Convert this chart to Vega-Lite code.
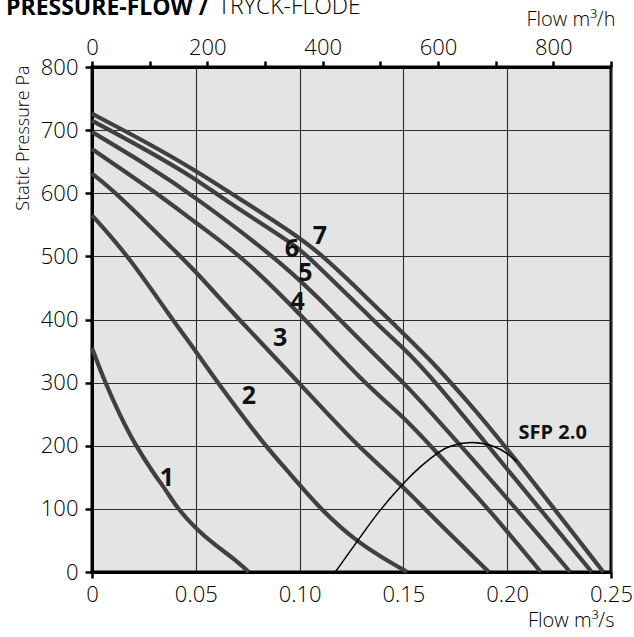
{
  "$schema": "https://vega.github.io/schema/vega-lite/v6.json",
  "width": 519,
  "height": 505,
  "autosize": {"type": "none"},
  "padding": {"left": 92, "top": 67, "right": 23, "bottom": 65},
  "background": "white",
  "title": {
    "text": "PRESSURE-FLOW /",
    "anchor": "start",
    "frame": "group",
    "orient": "top",
    "dx": -86,
    "offset": -24,
    "font": "Open Sans",
    "fontSize": 23,
    "fontWeight": "bold",
    "color": "#000"
  },
  "datasets": {
    "curves": [
      {"curve": "1", "flow": 0, "pressure": 355},
      {"curve": "1", "flow": 0.0063, "pressure": 300},
      {"curve": "1", "flow": 0.0135, "pressure": 248},
      {"curve": "1", "flow": 0.0207, "pressure": 202},
      {"curve": "1", "flow": 0.0295, "pressure": 157},
      {"curve": "1", "flow": 0.036, "pressure": 128},
      {"curve": "1", "flow": 0.0408, "pressure": 102},
      {"curve": "1", "flow": 0.0504, "pressure": 67},
      {"curve": "1", "flow": 0.06, "pressure": 41},
      {"curve": "1", "flow": 0.068, "pressure": 22},
      {"curve": "1", "flow": 0.0755, "pressure": 0},
      {"curve": "2", "flow": 0, "pressure": 565},
      {"curve": "2", "flow": 0.0177, "pressure": 500},
      {"curve": "2", "flow": 0.038, "pressure": 403},
      {"curve": "2", "flow": 0.05, "pressure": 350},
      {"curve": "2", "flow": 0.0609, "pressure": 298},
      {"curve": "2", "flow": 0.0833, "pressure": 200},
      {"curve": "2", "flow": 0.0954, "pressure": 156},
      {"curve": "2", "flow": 0.1098, "pressure": 100},
      {"curve": "2", "flow": 0.1275, "pressure": 48},
      {"curve": "2", "flow": 0.1403, "pressure": 22},
      {"curve": "2", "flow": 0.1518, "pressure": 0},
      {"curve": "3", "flow": 0, "pressure": 631},
      {"curve": "3", "flow": 0.012, "pressure": 600},
      {"curve": "3", "flow": 0.0425, "pressure": 500},
      {"curve": "3", "flow": 0.05, "pressure": 476},
      {"curve": "3", "flow": 0.0707, "pressure": 400},
      {"curve": "3", "flow": 0.0997, "pressure": 300},
      {"curve": "3", "flow": 0.1275, "pressure": 200},
      {"curve": "3", "flow": 0.15, "pressure": 135},
      {"curve": "3", "flow": 0.1628, "pressure": 91},
      {"curve": "3", "flow": 0.1912, "pressure": 0},
      {"curve": "4", "flow": 0, "pressure": 670},
      {"curve": "4", "flow": 0.0313, "pressure": 600},
      {"curve": "4", "flow": 0.05, "pressure": 553},
      {"curve": "4", "flow": 0.0722, "pressure": 500},
      {"curve": "4", "flow": 0.1, "pressure": 410},
      {"curve": "4", "flow": 0.1307, "pressure": 300},
      {"curve": "4", "flow": 0.15, "pressure": 246},
      {"curve": "4", "flow": 0.1628, "pressure": 201},
      {"curve": "4", "flow": 0.1909, "pressure": 100},
      {"curve": "4", "flow": 0.2, "pressure": 64},
      {"curve": "4", "flow": 0.2162, "pressure": 0},
      {"curve": "5", "flow": 0, "pressure": 697},
      {"curve": "5", "flow": 0.025, "pressure": 648},
      {"curve": "5", "flow": 0.05, "pressure": 594},
      {"curve": "5", "flow": 0.0954, "pressure": 480},
      {"curve": "5", "flow": 0.1162, "pressure": 410},
      {"curve": "5", "flow": 0.138, "pressure": 338},
      {"curve": "5", "flow": 0.15, "pressure": 300},
      {"curve": "5", "flow": 0.1628, "pressure": 255},
      {"curve": "5", "flow": 0.2, "pressure": 117},
      {"curve": "5", "flow": 0.2303, "pressure": 0},
      {"curve": "6", "flow": 0, "pressure": 715},
      {"curve": "6", "flow": 0.025, "pressure": 671},
      {"curve": "6", "flow": 0.05, "pressure": 623},
      {"curve": "6", "flow": 0.0626, "pressure": 592},
      {"curve": "6", "flow": 0.0954, "pressure": 523},
      {"curve": "6", "flow": 0.1034, "pressure": 503},
      {"curve": "6", "flow": 0.1387, "pressure": 388},
      {"curve": "6", "flow": 0.15, "pressure": 355},
      {"curve": "6", "flow": 0.1628, "pressure": 312},
      {"curve": "6", "flow": 0.2, "pressure": 163},
      {"curve": "6", "flow": 0.2407, "pressure": 0},
      {"curve": "7", "flow": 0, "pressure": 726},
      {"curve": "7", "flow": 0.025, "pressure": 683},
      {"curve": "7", "flow": 0.05, "pressure": 636},
      {"curve": "7", "flow": 0.0707, "pressure": 592},
      {"curve": "7", "flow": 0.0954, "pressure": 540},
      {"curve": "7", "flow": 0.1098, "pressure": 505},
      {"curve": "7", "flow": 0.125, "pressure": 458},
      {"curve": "7", "flow": 0.1468, "pressure": 388},
      {"curve": "7", "flow": 0.1628, "pressure": 337},
      {"curve": "7", "flow": 0.1805, "pressure": 272},
      {"curve": "7", "flow": 0.2, "pressure": 196},
      {"curve": "7", "flow": 0.2463, "pressure": 0}
    ],
    "sfp": [
      {"flow": 0.1172, "pressure": 0},
      {"flow": 0.1283, "pressure": 51},
      {"flow": 0.1387, "pressure": 99},
      {"flow": 0.15, "pressure": 141},
      {"flow": 0.158, "pressure": 167},
      {"flow": 0.1676, "pressure": 192},
      {"flow": 0.1724, "pressure": 200},
      {"flow": 0.1829, "pressure": 207.5},
      {"flow": 0.1941, "pressure": 200},
      {"flow": 0.2, "pressure": 188},
      {"flow": 0.2046, "pressure": 175}
    ],
    "curveLabels": [
      {"label": "1", "flow": 0.0361, "pressure": 149},
      {"label": "2", "flow": 0.0756, "pressure": 279},
      {"label": "3", "flow": 0.0906, "pressure": 371},
      {"label": "4", "flow": 0.099, "pressure": 428},
      {"label": "5", "flow": 0.1028, "pressure": 473},
      {"label": "6", "flow": 0.0963, "pressure": 511},
      {"label": "7", "flow": 0.1098, "pressure": 532}
    ],
    "sfpLabel": [
      {"label": "SFP 2.0", "flow": 0.2219, "pressure": 220}
    ],
    "header": [
      {"label": "TRYCK-FLÖDE", "flow": 0.0607, "pressure": 884.75}
    ],
    "topAxis": [
      {"m3h": 0},
      {"m3h": 900}
    ]
  },
  "layer": [
    {
      "encoding": {
        "x": {
          "field": "flow",
          "type": "quantitative",
          "scale": {"domain": [0, 0.25], "nice": false, "zero": false},
          "axis": {
            "orient": "bottom",
            "values": [0, 0.05, 0.1, 0.15, 0.2, 0.25],
            "labelExpr": "datum.value == 0 ? '0' : format(datum.value, '.2f')",
            "title": "Flow m³/s",
            "titleX": 522,
            "titleY": 54,
            "titleAlign": "right",
            "titleBaseline": "alphabetic",
            "titleFont": "Open Sans",
            "titleFontSize": 20,
            "titleFontWeight": 300,
            "titleColor": "#000",
            "labelFont": "Open Sans",
            "labelFontSize": 22,
            "labelFontWeight": 300,
            "labelColor": "#000",
            "labelPadding": 6,
            "labelFlush": false,
            "labelOverlap": false,
            "tickSize": 6,
            "tickWidth": 2.5,
            "tickColor": "#000",
            "tickOpacity": {"condition": {"test": "datum.value == 0 || datum.value == 0.25", "value": 1}, "value": 0},
            "domain": true,
            "domainColor": "#000",
            "domainWidth": 3,
            "grid": true,
            "gridColor": "#2b2b2b",
            "gridWidth": 1.1
          }
        },
        "y": {
          "field": "pressure",
          "type": "quantitative",
          "scale": {"domain": [0, 800], "nice": false},
          "axis": {
            "values": [0, 100, 200, 300, 400, 500, 600, 700, 800],
            "title": "Static Pressure Pa",
            "titleX": -64,
            "titleY": -2,
            "titleAngle": 270,
            "titleAlign": "right",
            "titleBaseline": "alphabetic",
            "titleFont": "Open Sans",
            "titleFontSize": 18,
            "titleFontWeight": 300,
            "titleColor": "#000",
            "labelFont": "Open Sans",
            "labelFontSize": 22,
            "labelFontWeight": 300,
            "labelColor": "#000",
            "labelPadding": 7,
            "labelFlush": false,
            "labelOverlap": false,
            "tickSize": 7,
            "tickWidth": 2.5,
            "tickColor": "#000",
            "domain": true,
            "domainColor": "#000",
            "domainWidth": 3,
            "grid": true,
            "gridColor": "#2b2b2b",
            "gridWidth": 1.1
          }
        }
      },
      "layer": [
        {
          "data": {"name": "curves"},
          "mark": {"type": "line", "interpolate": "basis", "color": "#404040", "strokeWidth": 4.2, "strokeCap": "butt"},
          "encoding": {"detail": {"field": "curve"}, "order": {"field": "flow", "type": "quantitative"}}
        },
        {
          "data": {"name": "sfp"},
          "mark": {"type": "line", "interpolate": "basis", "color": "#000", "strokeWidth": 1.5},
          "encoding": {"order": {"field": "flow", "type": "quantitative"}}
        },
        {
          "data": {"name": "curveLabels"},
          "mark": {"type": "text", "font": "Open Sans", "fontSize": 25, "fontWeight": "bold", "color": "#111", "align": "center", "baseline": "middle"},
          "encoding": {"text": {"field": "label"}}
        },
        {
          "data": {"name": "sfpLabel"},
          "mark": {"type": "text", "font": "Open Sans", "fontSize": 20, "fontWeight": "bold", "color": "#111", "align": "center", "baseline": "middle"},
          "encoding": {"text": {"field": "label"}}
        },
        {
          "data": {"name": "header"},
          "mark": {"type": "text", "font": "Open Sans", "fontSize": 23, "fontWeight": 300, "color": "#000", "align": "left", "baseline": "alphabetic"},
          "encoding": {"text": {"field": "label"}}
        }
      ]
    },
    {
      "data": {"name": "topAxis"},
      "mark": {"type": "point", "opacity": 0},
      "encoding": {
        "x": {
          "field": "m3h",
          "type": "quantitative",
          "scale": {"domain": [0, 900], "nice": false},
          "axis": {
            "orient": "top",
            "values": [0, 100, 200, 300, 400, 500, 600, 700, 800, 900],
            "labelExpr": "datum.value % 200 == 0 ? datum.label : ''",
            "title": "Flow m³/h",
            "titleX": 523,
            "titleY": -42,
            "titleAlign": "right",
            "titleBaseline": "alphabetic",
            "titleFont": "Open Sans",
            "titleFontSize": 20,
            "titleFontWeight": 300,
            "titleColor": "#000",
            "labelFont": "Open Sans",
            "labelFontSize": 22,
            "labelFontWeight": 300,
            "labelColor": "#000",
            "labelPadding": 2,
            "labelFlush": false,
            "labelOverlap": false,
            "tickSize": 6,
            "tickWidth": 2.5,
            "tickColor": "#000",
            "domain": true,
            "domainColor": "#000",
            "domainWidth": 3,
            "grid": false
          }
        }
      }
    }
  ],
  "resolve": {"scale": {"x": "independent"}, "axis": {"x": "independent"}},
  "config": {
    "view": {"fill": "#e4e4e4", "stroke": "#000", "strokeWidth": 3}
  }
}
